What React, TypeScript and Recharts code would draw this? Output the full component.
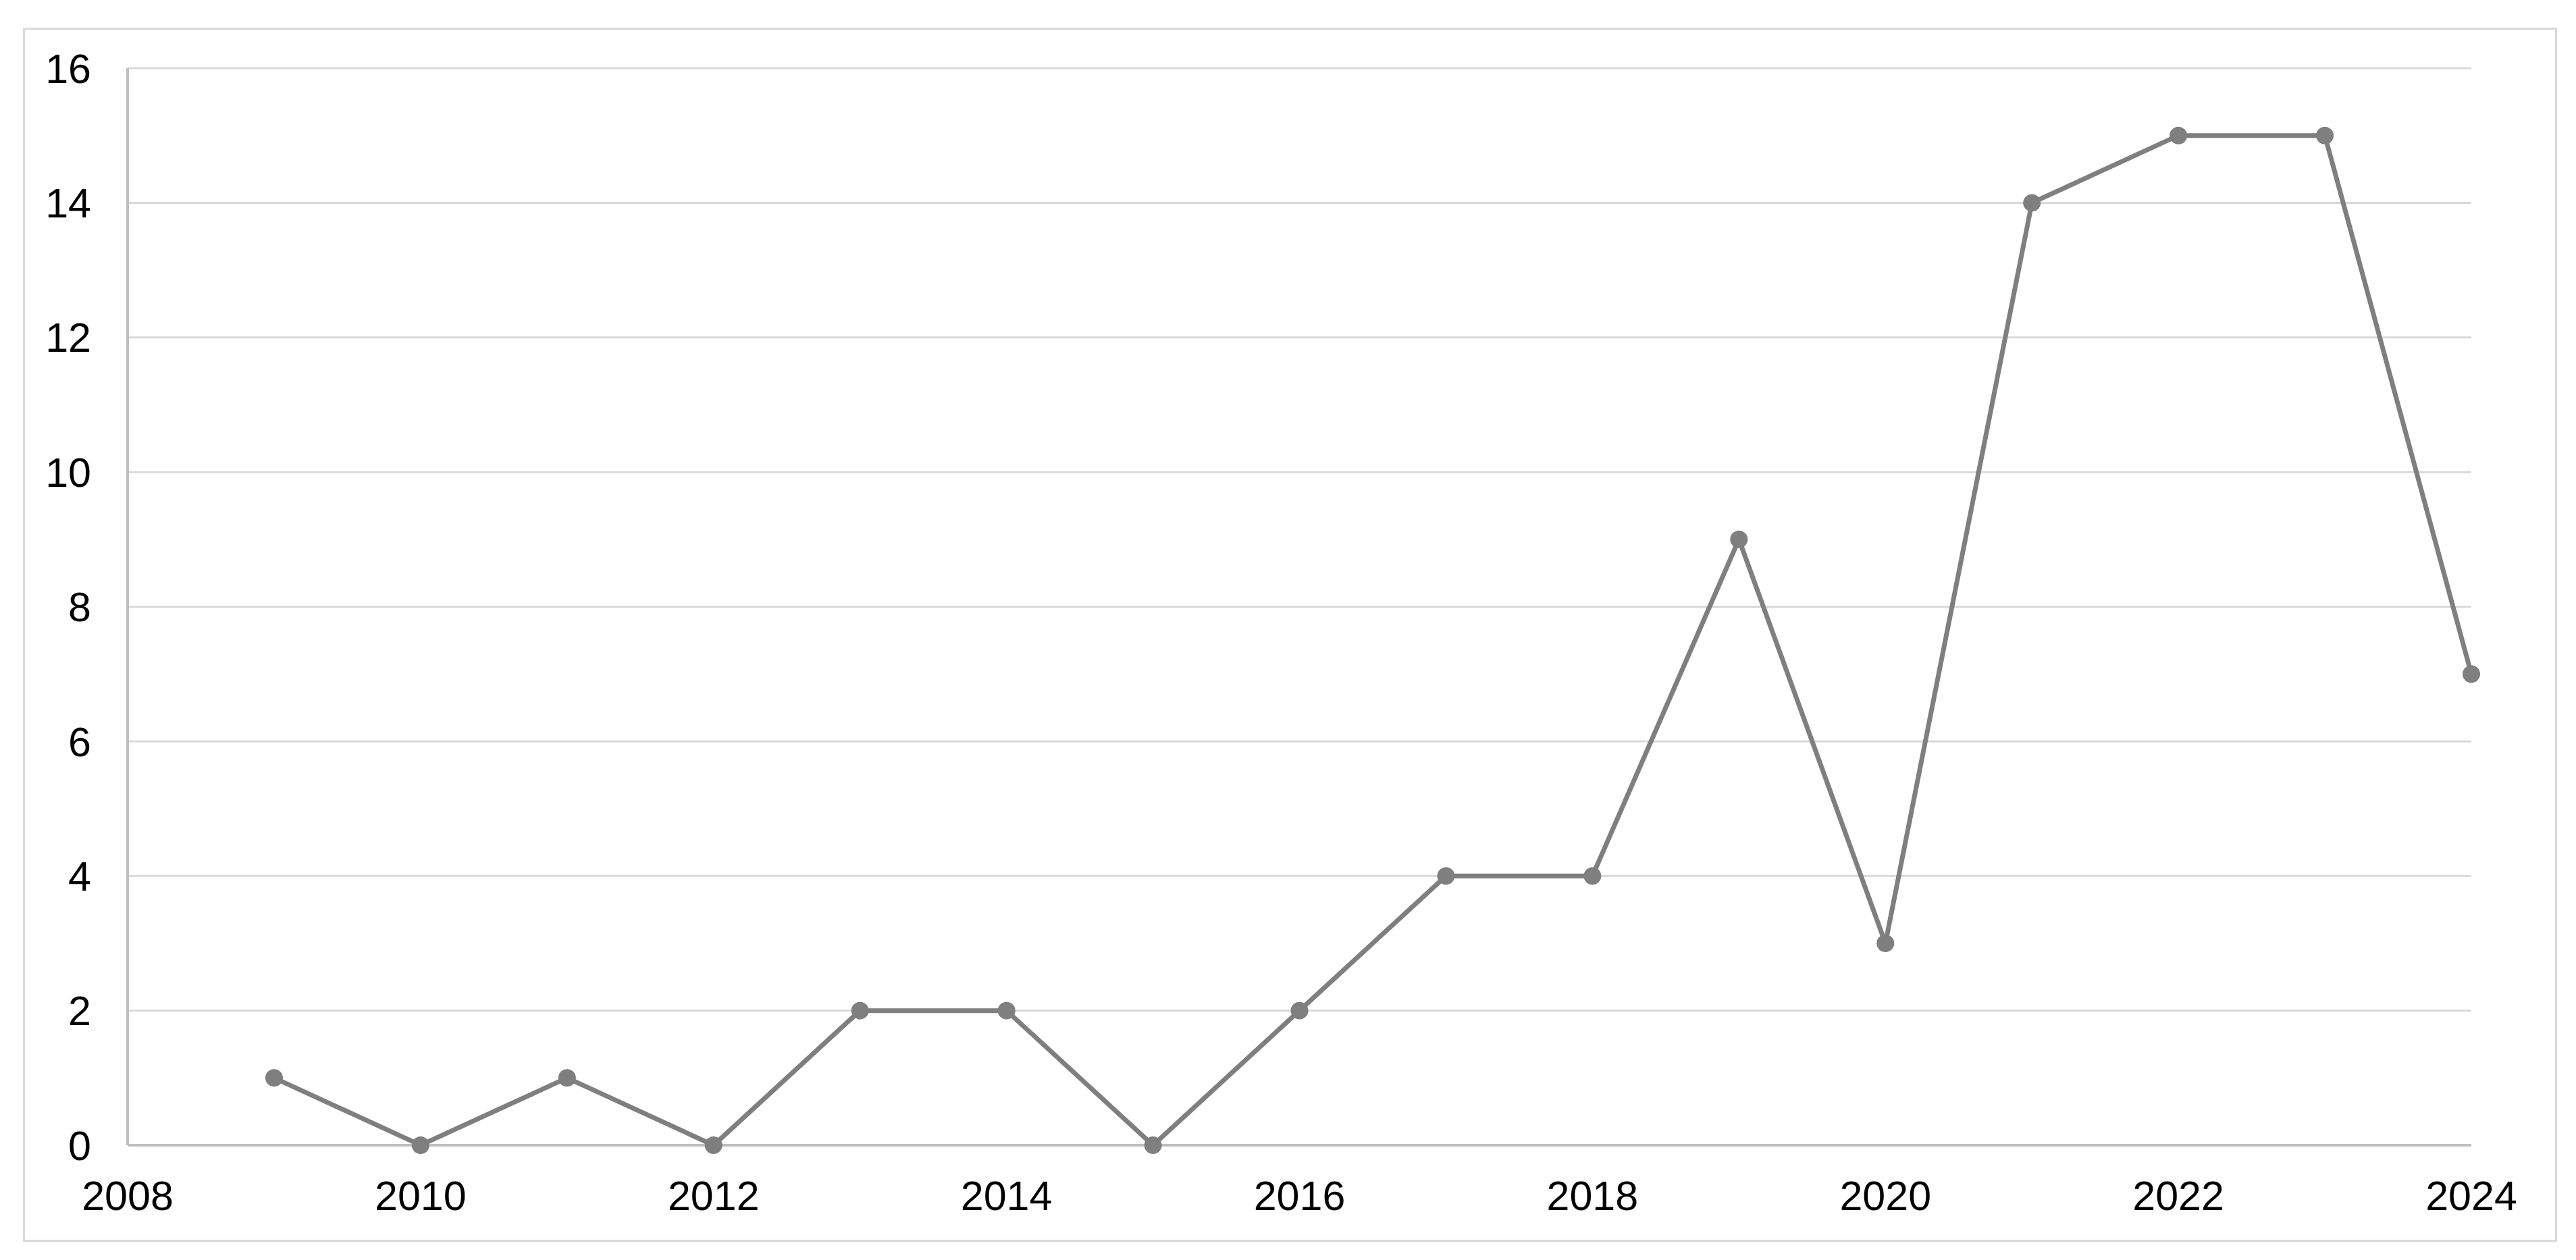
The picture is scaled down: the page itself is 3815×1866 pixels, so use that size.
import { CartesianGrid, Line, LineChart, XAxis, YAxis } from 'recharts';

const years = [2009, 2010, 2011, 2012, 2013, 2014, 2015, 2016, 2017, 2018, 2019, 2020, 2021, 2022, 2023, 2024];
const counts = [1, 0, 1, 0, 2, 2, 0, 2, 4, 4, 9, 3, 14, 15, 15, 7];
const xTicks = [2008, 2010, 2012, 2014, 2016, 2018, 2020, 2022, 2024];
const yTicks = [0, 2, 4, 6, 8, 10, 12, 14, 16];

const data = years.map((year, i) => ({ year, count: counts[i] }));

const tickStyle = { fontSize: 61, fill: '#000', fontFamily: '"Liberation Sans", Arial, sans-serif' };

export default function App() {
  return (
    <div style={{ position: 'absolute', left: 0, top: 0, width: 3815, height: 1866, background: '#fff' }}>
      <div
        style={{
          position: 'absolute',
          left: 34,
          top: 41,
          width: 3753,
          height: 1798,
          boxSizing: 'border-box',
          border: '3px solid #d9d9d9',
        }}
      />
      <div style={{ position: 'absolute', left: 0, top: 0 }}>
        <LineChart width={3815} height={1866} data={data} margin={{ top: 101, right: 155, left: 0, bottom: 70 }}>
          <CartesianGrid vertical={false} stroke="#d9d9d9" strokeWidth={3} />
          <XAxis
            dataKey="year"
            type="number"
            domain={[2008, 2024]}
            ticks={xTicks}
            height={100}
            tickLine={false}
            tickSize={0}
            tickMargin={53}
            axisLine={{ stroke: '#bfbfbf', strokeWidth: 4 }}
            tick={tickStyle}
          />
          <YAxis
            domain={[0, 16]}
            ticks={yTicks}
            width={189}
            tickLine={false}
            tickSize={0}
            tickMargin={54}
            axisLine={{ stroke: '#bfbfbf', strokeWidth: 4 }}
            tick={tickStyle}
          />
          <Line
            type="linear"
            dataKey="count"
            stroke="#7f7f7f"
            strokeWidth={7}
            dot={{ r: 13, fill: '#7f7f7f', stroke: 'none' }}
            activeDot={false}
            isAnimationActive={false}
          />
        </LineChart>
      </div>
    </div>
  );
}
